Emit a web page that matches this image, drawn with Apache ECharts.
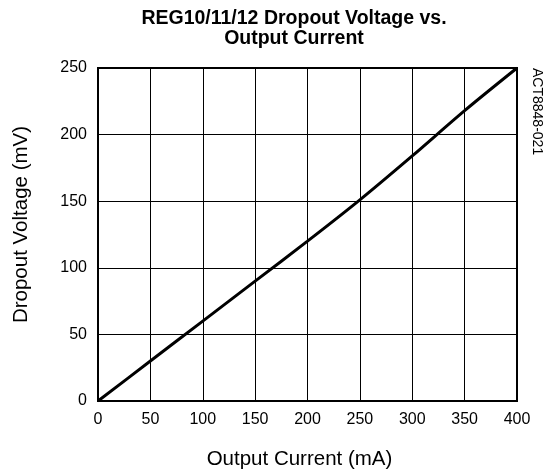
<!DOCTYPE html>
<html>
<head>
<meta charset="utf-8">
<script src="https://cdn.jsdelivr.net/npm/echarts@6/dist/echarts.min.js"></script>
<style>
  html, body { margin: 0; padding: 0; background: #fff; }
  #chart { width: 545px; height: 475px; }
</style>
</head>
<body>
<div id="chart"></div>
<script>
// output current (mA) and dropout voltage (mV)
var current = [0, 50, 100, 150, 200, 250, 300, 350, 400];
var dropout = [0, 30, 60, 90, 120, 151, 184, 218, 250];

var titleText = 'REG10/11/12 Dropout Voltage vs.\nOutput Current';
var xName = 'Output Current (mA)';
var yName = 'Dropout Voltage (mV)';
var figId = 'ACT8848-021';

var points = [];
for (var i = 0; i < current.length; i++) {
  points.push([current[i], dropout[i]]);
}

var myChart = echarts.init(document.getElementById('chart'));

var font = 'Arial, "Liberation Sans", sans-serif';

var option = {
  animation: false,
  title: {
    text: titleText,
    left: 289,
    top: 4,
    textAlign: 'center',
    textStyle: {
      fontFamily: font,
      fontSize: 19.5,
      fontWeight: 'bold',
      color: '#000',
      lineHeight: 20
    }
  },
  grid: {
    left: 98,
    right: 28,
    top: 68,
    bottom: 72,
    show: true,
    borderColor: '#000',
    borderWidth: 2,
    backgroundColor: 'transparent'
  },
  xAxis: {
    type: 'value',
    min: 0,
    max: 400,
    interval: 50,
    name: xName,
    nameLocation: 'middle',
    nameGap: 48,
    nameTextStyle: { fontFamily: font, fontSize: 20.5, color: '#000', padding: [0, 16, 0, 0] },
    axisLine: { show: true, lineStyle: { color: '#000', width: 2 } },
    axisTick: { show: false },
    axisLabel: { fontFamily: font, fontSize: 16, color: '#000', margin: 11 },
    splitLine: { show: true, lineStyle: { color: '#000', width: 1 } }
  },
  yAxis: {
    type: 'value',
    min: 0,
    max: 250,
    interval: 50,
    name: yName,
    nameLocation: 'middle',
    nameGap: 66,
    nameTextStyle: { fontFamily: font, fontSize: 20.5, color: '#000', padding: [0, 0, 0, 20] },
    axisLine: { show: true, lineStyle: { color: '#000', width: 2 } },
    axisTick: { show: false },
    axisLabel: { fontFamily: font, fontSize: 16, color: '#000', margin: 11 },
    splitLine: { show: true, lineStyle: { color: '#000', width: 1 } }
  },
  graphic: [{
    type: 'text',
    x: 544,
    y: 68,
    rotation: -Math.PI / 2,
    style: {
      text: figId,
      fontFamily: font,
      fontSize: 14,
      fill: '#000'
    }
  }],
  series: [{
    type: 'line',
    data: points,
    showSymbol: false,
    smooth: 0.3,
    lineStyle: { color: '#000', width: 3 }
  }]
};

myChart.setOption(option);
</script>
</body>
</html>
